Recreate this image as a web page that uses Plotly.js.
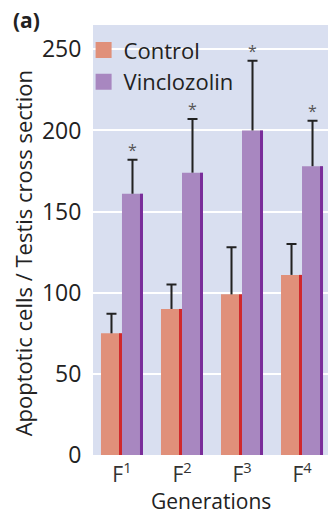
<!DOCTYPE html>
<html>
<head>
<meta charset="utf-8">
<script src="https://cdn.plot.ly/plotly-3.0.1.min.js"></script>
<style>html,body{margin:0;padding:0;background:#fff;}#chart{width:328px;height:517px;}</style>
</head>
<body>
<div id="chart"></div>
<script>
// Data
const categories = ["F<sup>1</sup>", "F<sup>2</sup>", "F<sup>3</sup>", "F<sup>4</sup>"];
const controlValues = [75, 90, 99, 111];
const controlErrors = [12, 15, 29, 19];
const vinclozolinValues = [161, 174, 200, 178];
const vinclozolinErrors = [21, 33, 43, 28];
const significant = [true, true, true, true];
const yTicks = [0, 50, 100, 150, 200, 250];
const seriesNames = ["Control", "Vinclozolin"];

const zeros = controlValues.map(() => 0);
const font = "Open Sans, Noto Sans, DejaVu Sans, sans-serif";
const errColor = "#222222";
const controlColor = "#e0907a";
const vinclozolinColor = "#a887c0";

function whisker(name, values, errors, offset) {
  // one-sided error bar: a thin stem from the bar top up to value+error, with a cap on top
  return {
    type: "bar", name: name, x: categories, y: errors, base: values,
    offset: offset, width: 0.034, showlegend: false,
    marker: {color: errColor},
    error_y: {type: "data", array: zeros, color: errColor, thickness: 2, width: 5},
    hoverinfo: "skip"
  };
}

const traces = [
  {
    type: "bar", name: seriesNames[0], x: categories, y: controlValues,
    offset: -0.35, width: 0.35, showlegend: false,
    marker: {color: controlColor}, hoverinfo: "skip"
  },
  {
    type: "bar", name: seriesNames[1], x: categories, y: vinclozolinValues,
    offset: 0, width: 0.35, showlegend: false,
    marker: {color: vinclozolinColor}, hoverinfo: "skip"
  },
  {
    type: "bar", name: "Control edge", x: categories, y: controlValues,
    offset: -0.05, width: 0.05, showlegend: false,
    marker: {color: "#d0282c"}, hoverinfo: "skip"
  },
  {
    type: "bar", name: "Vinclozolin edge", x: categories, y: vinclozolinValues,
    offset: 0.30, width: 0.05, showlegend: false,
    marker: {color: "#7a2d9a"}, hoverinfo: "skip"
  },
  whisker("Control error", controlValues, controlErrors, -0.192),
  whisker("Vinclozolin error", vinclozolinValues, vinclozolinErrors, 0.158),
  // legend entries (large square swatches)
  {type: "scatter", mode: "markers", name: seriesNames[0], x: [null], y: [null],
   marker: {symbol: "square", size: 16, color: controlColor}, hoverinfo: "skip"},
  {type: "scatter", mode: "markers", name: seriesNames[1], x: [null], y: [null],
   marker: {symbol: "square", size: 16, color: vinclozolinColor}, hoverinfo: "skip"}
];

const annotations = [];
categories.forEach((c, i) => {
  if (significant[i]) {
    annotations.push({
      x: c, y: vinclozolinValues[i] + vinclozolinErrors[i], xref: "x", yref: "y",
      xshift: 10.5, yshift: -3, yanchor: "bottom", showarrow: false,
      text: "*", font: {family: font, size: 16, color: "#555"}
    });
  }
});
annotations.push({
  xref: "paper", yref: "paper", x: -0.347, y: 1.0116, xanchor: "left", yanchor: "middle",
  showarrow: false, text: "<b>(a)</b>", font: {family: font, size: 21, color: "#222"}
});
annotations.push({
  xref: "paper", yref: "paper", x: -0.298, y: 0.469, xanchor: "center", yanchor: "middle",
  textangle: -90, showarrow: false, text: "Apoptotic cells / Testis cross section",
  font: {family: font, size: 22, color: "#222"}
});
annotations.push({
  xref: "paper", yref: "paper", x: 0.5, y: -0.1442, xanchor: "center", yanchor: "bottom",
  showarrow: false, text: "Generations",
  font: {family: font, size: 21, color: "#222"}
});

const layout = {
  width: 328, height: 517,
  margin: {l: 93, r: 0, t: 25, b: 62},
  paper_bgcolor: "#ffffff",
  plot_bgcolor: "#d9dff0",
  barmode: "overlay",
  showlegend: true,
  legend: {
    x: -0.04, y: 0.99, xanchor: "left", yanchor: "top",
    bgcolor: "rgba(0,0,0,0)", font: {family: font, size: 22, color: "#222"},
    tracegroupgap: 0
  },
  xaxis: {
    type: "category", range: [-0.483, 3.433],
    showgrid: false, zeroline: false, showline: false, ticks: "",
    ticklabelstandoff: 5,
    tickfont: {family: font, size: 21, color: "#333"}
  },
  yaxis: {
    range: [0, 265], tickvals: yTicks, ticktext: yTicks.map(String),
    showgrid: true, gridcolor: "#ffffff", gridwidth: 2,
    zeroline: false, showline: false,
    ticks: "outside", ticklen: 6, tickcolor: "#ffffff",
    tickfont: {family: font, size: 23, color: "#222"}
  },
  annotations: annotations
};

Plotly.newPlot("chart", traces, layout, {staticPlot: true, displayModeBar: false});
</script>
</body>
</html>
